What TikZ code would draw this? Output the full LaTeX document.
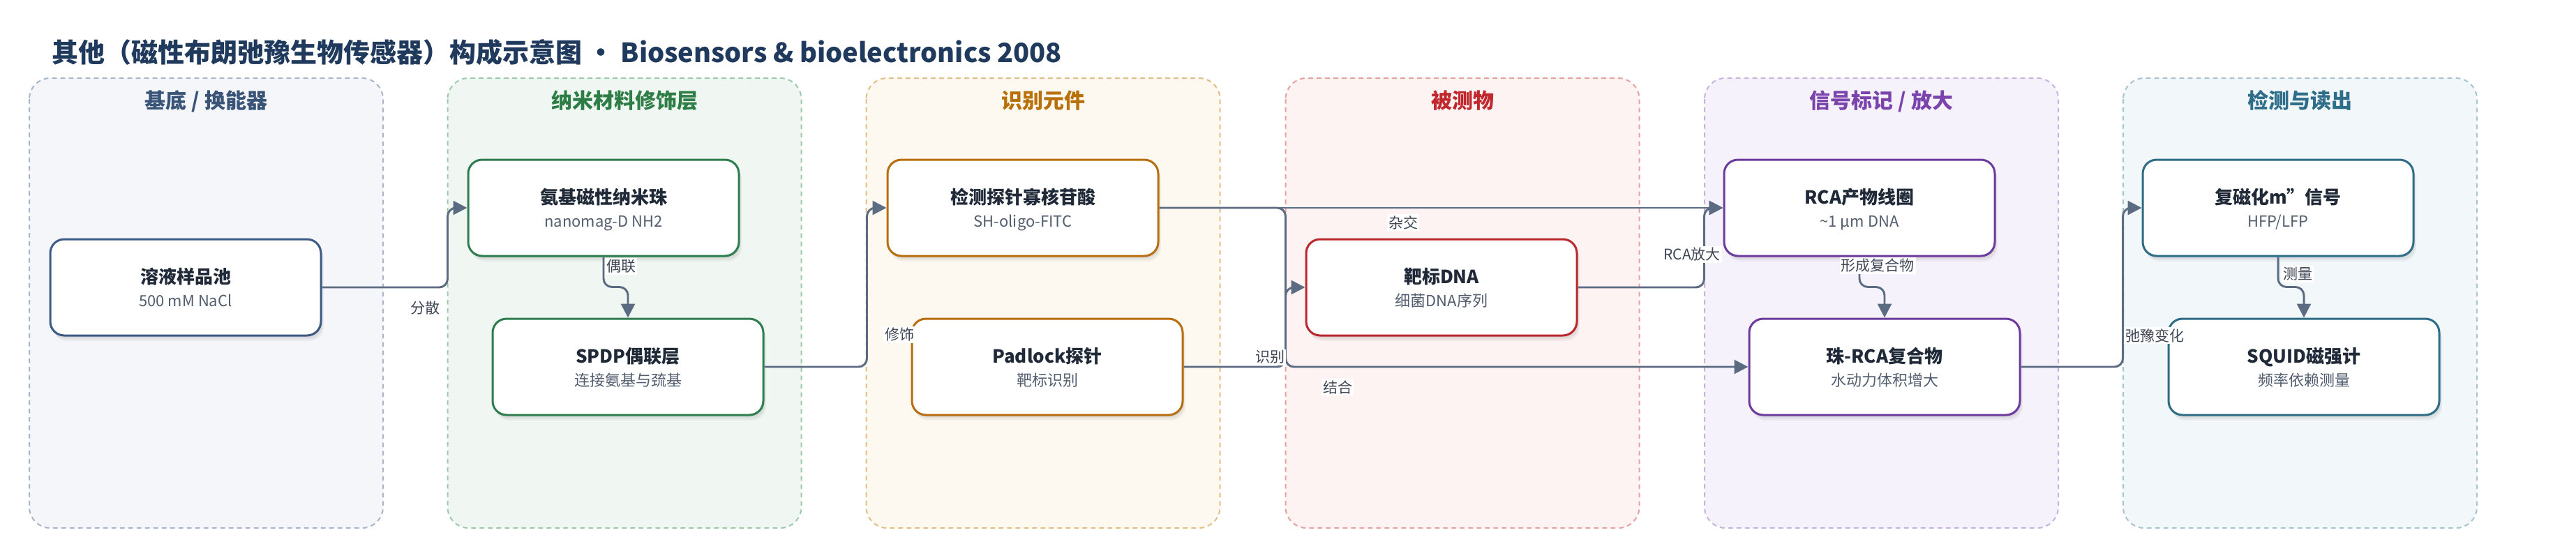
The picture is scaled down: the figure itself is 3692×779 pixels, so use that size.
\documentclass[tikz,border=0pt]{standalone}
\usepackage{fontspec}
\setmainfont{Noto Sans CJK SC}
\usetikzlibrary{arrows.meta,calc,shadows}
\newcommand\setfs[1]{\fontsize{#1}{#1}\selectfont}
\definecolor{titlec}{HTML}{1F3A5C}
\definecolor{edgec}{HTML}{5B6B82}
\definecolor{lblc}{HTML}{3F4654}
\definecolor{ttlc}{HTML}{1F2937}
\definecolor{subc}{HTML}{525D6E}
% panel fills, borders, headers, node borders
\definecolor{pfA}{HTML}{F4F6FA}\definecolor{pbA}{HTML}{A8B6CB}\definecolor{phA}{HTML}{3A5478}\definecolor{nbA}{HTML}{3D5A85}
\definecolor{pfB}{HTML}{F0F7F2}\definecolor{pbB}{HTML}{9CCBA8}\definecolor{phB}{HTML}{2E7D46}\definecolor{nbB}{HTML}{2E7D4F}
\definecolor{pfC}{HTML}{FDF8F0}\definecolor{pbC}{HTML}{E2BE86}\definecolor{phC}{HTML}{B8700A}\definecolor{nbC}{HTML}{B86E0E}
\definecolor{pfD}{HTML}{FDF3F3}\definecolor{pbD}{HTML}{E6A1A1}\definecolor{phD}{HTML}{C0282D}\definecolor{nbD}{HTML}{B8282C}
\definecolor{pfE}{HTML}{F6F2FB}\definecolor{pbE}{HTML}{C7B2E0}\definecolor{phE}{HTML}{7B44AD}\definecolor{nbE}{HTML}{6C3B9E}
\definecolor{pfF}{HTML}{F2F7F9}\definecolor{pbF}{HTML}{A6C5D0}\definecolor{phF}{HTML}{2F6E8A}\definecolor{nbF}{HTML}{2F6C86}
\begin{document}
\begin{tikzpicture}[x=0.75pt,y=-0.75pt,
  panel/.style n args={2}{fill=#1,draw=#2,line width=1.5pt,dash pattern=on 5pt off 4pt,rounded corners=22.5pt},
  hdr/.style={anchor=base,font=\setfs{22.5pt}\bfseries,inner sep=0pt},
  box/.style={draw=#1,fill=white,line width=2.25pt,rounded corners=15pt,
    minimum width=291pt,minimum height=103.5pt,inner sep=0pt,
    drop shadow={shadow xshift=1pt,shadow yshift=-2pt,opacity=.05,fill=black},
    drop shadow={shadow xshift=2pt,shadow yshift=-4pt,opacity=.05,fill=black},
    drop shadow={shadow xshift=3pt,shadow yshift=-6pt,opacity=.04,fill=black}},
  ttl/.style={anchor=base,font=\setfs{19.5pt}\bfseries,text=ttlc,inner sep=0pt},
  sub/.style={anchor=base,font=\setfs{16.5pt},text=subc,inner sep=0pt},
  edge/.style={draw=edgec,line width=2.2pt,rounded corners=9pt,-{Triangle[length=15pt,width=15pt]}},
  lbl/.style={fill=white,inner sep=1.5pt,text=lblc,font=\setfs{15.75pt}}]
\useasboundingbox (0,0) rectangle (3692,779);
\fill[white] (0,0) rectangle (3692,779);

\node[anchor=base west,font=\setfs{28.5pt}\bfseries,text=titlec,inner sep=0pt] (title) at (74,89)
  {其他（磁性布朗弛豫生物传感器）构成示意图 • Biosensors \& bioelectronics 2008};

% panels
\draw[panel={pfA}{pbA}] (42,112) rectangle (549,757);
\draw[panel={pfB}{pbB}] (641.5,112) rectangle (1148.5,757);
\draw[panel={pfC}{pbC}] (1241.5,112) rectangle (1748.5,757);
\draw[panel={pfD}{pbD}] (1842.5,112) rectangle (2349.5,757);
\draw[panel={pfE}{pbE}] (2443,112) rectangle (2950,757);
\draw[panel={pfF}{pbF}] (3043,112) rectangle (3550,757);

\node[hdr,text=phA] (H1) at (295.5,155) {基底 / 换能器};
\node[hdr,text=phB] (H2) at (895,155) {纳米材料修饰层};
\node[hdr,text=phC] (H3) at (1495,155) {识别元件};
\node[hdr,text=phD] (H4) at (2096,155) {被测物};
\node[hdr,text=phE] (H5) at (2696.5,155) {信号标记 / 放大};
\node[hdr,text=phF] (H6) at (3296.5,155) {检测与读出};

% nodes
\node[box=nbA] (N1) at (266,412) {};
\node[box=nbB] (N2) at (865,298) {};
\node[box=nbB] (N3) at (900,526) {};
\node[box=nbC] (N4) at (1466,298) {};
\node[box=nbC] (N5) at (1501,526) {};
\node[box=nbD] (N6) at (2066,412) {};
\node[box=nbE] (N7) at (2665,298) {};
\node[box=nbE] (N8) at (2701,526) {};
\node[box=nbF] (N9) at (3265,298) {};
\node[box=nbF] (N10) at (3302,526) {};

\foreach \n/\t/\s in {N1/溶液样品池/500 mM NaCl, N2/氨基磁性纳米珠/nanomag-D NH2,
  N3/SPDP偶联层/连接氨基与巯基, N4/检测探针寡核苷酸/SH-oligo-FITC, N5/Padlock探针/靶标识别,
  N6/靶标DNA/细菌DNA序列, N7/RCA产物线圈/\textasciitilde1 µm DNA, N8/珠-RCA复合物/水动力体积增大,
  N9/{复磁化m\char39\char39 信号}/{HFP/LFP}, N10/SQUID磁强计/频率依赖测量}{
  \node[ttl] (\n t) at ($(\n.center)+(0,-6)$) {\t};
  \node[sub] (\n s) at ($(\n.center)+(0,27.5)$) {\s};
}

% edges
\draw[edge] (N1.east) -| ($(N2.west)+(-28,0)$) -- (N2.west);
\draw[edge] (N2.south) -- ++(0,43) -| (N3.north);
\draw[edge] (N3.east) -| ($(N4.west)+(-28,0)$) -- (N4.west);
\draw[edge] (N4.east) -- (N7.west);
\draw[edge] (N4.east) -| ($(N6.west)+(-28,0)$) |- (N8.west);
\draw[edge] (N5.east) -| ($(N6.west)+(-28,0)$) -- (N6.west);
\draw[edge] (N6.east) -| ($(N7.west)+(-27,0)$) -- (N7.west);
\draw[edge] (N7.south) -- ++(0,43) -| (N8.north);
\draw[edge] (N8.east) -| ($(N9.west)+(-27,0)$) -- (N9.west);
\draw[edge] (N9.south) -- ++(0,43) -| (N10.north);

% edge labels
\node[lbl] (L1) at (609,442) {分散};
\node[lbl] (L2) at (890,382) {偶联};
\node[lbl] (L3) at (1289,480) {修饰};
\node[lbl] (L4) at (2011,319) {杂交};
\node[lbl] (L5) at (1820,512) {识别};
\node[lbl] (L6) at (1917,555) {结合};
\node[lbl] (L7) at (2425,365) {RCA放大};
\node[lbl] (L8) at (2691,381) {形成复合物};
\node[lbl] (L9) at (3088,481) {弛豫变化};
\node[lbl] (L10) at (3293,393) {测量};
\end{tikzpicture}
\end{document}
